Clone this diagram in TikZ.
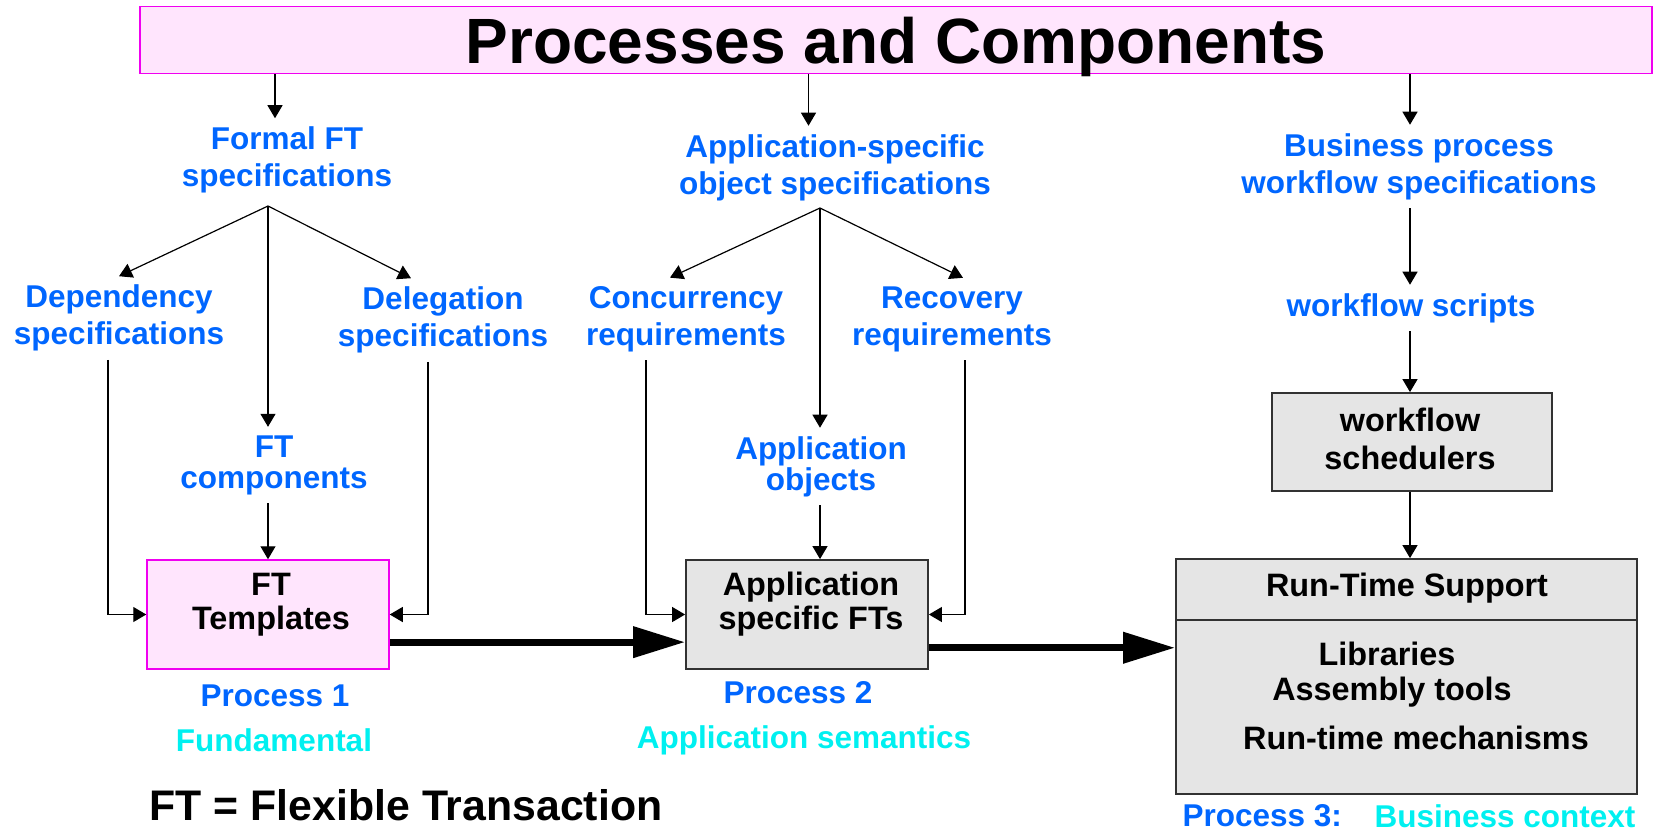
\documentclass[tikz,border=0pt]{standalone}
\usepackage{fontspec}
\setmainfont{Liberation Sans}
\usetikzlibrary{arrows.meta,calc}

\definecolor{procblue}{RGB}{0,102,255}
\definecolor{procaqua}{RGB}{0,240,240}
\definecolor{pinkfill}{RGB}{255,229,253}
\definecolor{pinkline}{RGB}{240,0,240}
\definecolor{grayfill}{RGB}{229,229,229}
\definecolor{grayline}{RGB}{50,50,50}

\begin{document}
\begin{tikzpicture}[
                x = 0.5pt,
                y = -0.5pt,
                > = {Triangle[length=6.5pt, width=7.5pt]},
                semithick
                ]

                \tikzstyle{spec}=[
                        align = center,
                        text = procblue,
                        font = \bfseries\fontsize{15.75}{18.5}\selectfont,
                        inner sep = 4pt
                ]
                \tikzstyle{proc}=[spec, inner sep = 0pt]
                \tikzstyle{aqua}=[spec, text = procaqua, inner sep = 0pt]
                \tikzstyle{boxtext}=[spec, text = black, font = \bfseries\fontsize{16.2}{19}\selectfont]
                \tikzstyle{pinkbox}=[
                        draw = pinkline,
                        fill = pinkfill,
                        line width = 0.75pt,
                        minimum width = 121pt,
                        minimum height = 54.5pt
                ]
                \tikzstyle{graybox}=[
                        draw = grayline,
                        fill = grayfill,
                        line width = 0.9pt,
                        minimum width = 121pt,
                        minimum height = 54.5pt
                ]
                \tikzstyle{bigarrow}=[
                        -{Triangle[length=26pt, width=15pt]},
                        line width = 3.5pt
                ]

                \useasboundingbox (0,0) rectangle (1655,832);

                % title
                \node[pinkbox, minimum width = 756pt, minimum height = 33.5pt, inner sep = 0pt,
                      text depth = 0pt, font = \bfseries\fontsize{32}{36}\selectfont]
                      (title) at (896,40) {Processes and Components};

                % columns of the vertical arrows
                \coordinate (col1) at (275,0);
                \coordinate (col2) at (808.5,0);
                \coordinate (col3) at (1410,0);
                \coordinate (fan1) at (268,206);
                \coordinate (fan2) at (820,208);

                % process 1
                \node[spec] (formal) at (287,160) {Formal FT\\specifications};
                \node[spec] (dep) at (119,318) {Dependency\\specifications};
                \node[spec] (deleg) at (443,320) {Delegation\\specifications};
                \node[spec] (ftcomp) at (274,465) {FT\\[-3pt]components};
                \node[pinkbox] (tmpl) at (268,614.5) {};
                \node[boxtext] (tmpltext) at (271,605) {FT\\[-2pt]Templates};
                \node[proc] (proc1) at (275,696) {Process 1};
                \node[aqua] (fund) at (274,740) {Fundamental};
                \node[boxtext, font = \bfseries\fontsize{21.4}{24}\selectfont] (ftdef) at (406,805) {FT = Flexible Transaction};

                % process 2
                \node[spec] (appspec) at (835,167.5) {Application-specific\\object specifications};
                \node[spec] (conc) at (686,319) {Concurrency\\requirements};
                \node[spec] (recov) at (952,319) {Recovery\\requirements};
                \node[spec] (appobj) at (821,466.5) {Application\\[-3pt]objects};
                \node[graybox] (appft) at (807,614.5) {};
                \node[boxtext] (appfttext) at (811,604.5) {Application\\[-2pt]specific FTs};
                \node[proc] (proc2) at (798,693) {Process 2};
                \node[aqua] (sem) at (804,740) {Application semantics};

                % process 3
                \node[spec] (bp) at (1419,166.5) {Business process\\workflow specifications};
                \node[spec] (wfs) at (1411,308) {workflow scripts};
                \node[graybox, minimum width = 140pt, minimum height = 49pt] (sched) at (1412,442) {};
                \node[boxtext] (schedtext) at (1410,439) {workflow\\schedulers};
                \node[graybox, minimum width = 230.5pt, minimum height = 117.5pt] (rts) at (1406.5,676.5) {};
                \draw[grayline, line width = 0.9pt] (rts.west |- 0,620) -- (rts.east |- 0,620);
                \node[boxtext] (rtshead) at (1407,588) {Run-Time Support};
                \node[boxtext] (lib) at (1387,654) {Libraries};
                \node[boxtext] (asm) at (1392,692) {Assembly tools};
                \node[boxtext] (rtm) at (1416,738) {Run-time mechanisms};
                \node[proc, anchor = west] (proc3) at (1182,816) {Process 3:};
                \node[aqua, anchor = east] (ctx) at (1636,816) {Business context};

                % connectors of process 1
                \draw[->] (title.south -| col1) -- (formal.north -| col1);
                \draw[->] (fan1) -- (dep.north);
                \draw[->] (fan1) -- ([xshift=-16pt]deleg.north);
                \draw[->] (fan1) -- (fan1 |- ftcomp.north);
                \draw[->] (ftcomp.south -| fan1) -- (tmpl.north -| fan1);
                \draw[->] ([xshift=-5.5pt]dep.south) |- (tmpl.west);
                \draw[->] ([xshift=-7.5pt]deleg.south) |- (tmpl.east);
                \coordinate (out1) at ($(tmpl.east)!0.5!(tmpl.south east)$);
                \draw[bigarrow] (out1) -- (out1 -| appft.west);

                % connectors of process 2
                \draw[->] (title.south -| col2) -- (appspec.north -| col2);
                \draw[->] (fan2) -- ([xshift=-8pt]conc.north);
                \draw[->] (fan2) -- ([xshift=5.5pt]recov.north);
                \draw[->] (fan2) -- (fan2 |- appobj.north);
                \draw[->] (appobj.south -| fan2) -- (appft.north -| fan2);
                \draw[->] ([xshift=-20pt]conc.south) |- (appft.west);
                \draw[->] ([xshift=6.5pt]recov.south) |- (appft.east);
                \coordinate (out2) at ($(appft.east)!0.6!(appft.south east)$);
                \draw[bigarrow] (out2) -- (out2 -| rts.west);

                % connectors of process 3
                \draw[->] (title.south -| col3) -- (bp.north -| col3);
                \draw[->] (bp.south -| col3) -- (wfs.north -| col3);
                \draw[->] (wfs.south -| col3) -- (sched.north -| col3);
                \draw[->] (sched.south -| col3) -- (rts.north -| col3);
\end{tikzpicture}
\end{document}
